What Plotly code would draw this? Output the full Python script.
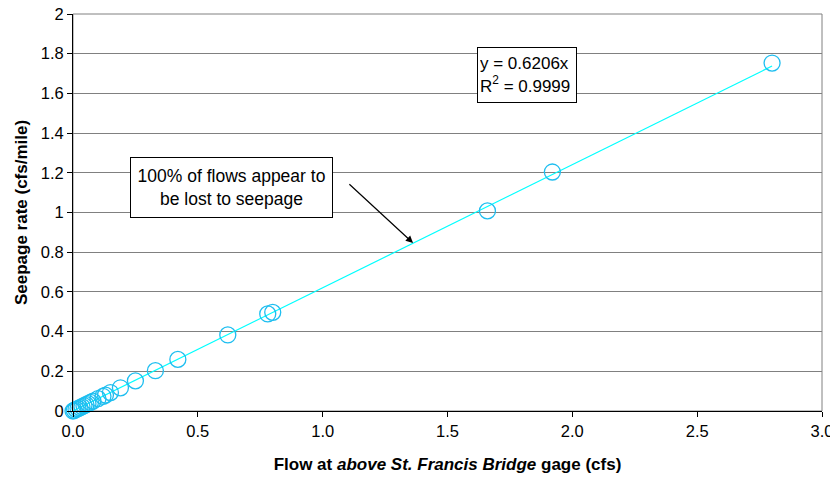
import plotly.graph_objects as go

flow = [0.0, 0.005, 0.012, 0.02, 0.028, 0.036, 0.044, 0.052, 0.06, 0.07, 0.08,
        0.10, 0.12, 0.13, 0.15, 0.19, 0.25, 0.33, 0.42, 0.62, 0.78, 0.80,
        1.66, 1.92, 2.80]
seepage = [0.0, 0.003, 0.008, 0.012, 0.017, 0.022, 0.027, 0.032, 0.037, 0.043, 0.05,
           0.062, 0.074, 0.08, 0.093, 0.117, 0.152, 0.203, 0.26, 0.383, 0.489, 0.497,
           1.008, 1.204, 1.753]
slope = 0.6206
r2 = 0.9999
x_ticks = [0.0, 0.5, 1.0, 1.5, 2.0, 2.5, 3.0]
x_ticktext = ["0.0", "0.5", "1.0", "1.5", "2.0", "2.5", "3.0"]
y_ticks = [0, 0.2, 0.4, 0.6, 0.8, 1.0, 1.2, 1.4, 1.6, 1.8, 2.0]
y_ticktext = ["0", "0.2", "0.4", "0.6", "0.8", "1", "1.2", "1.4", "1.6", "1.8", "2"]

FONT = "Liberation Sans, Arial, sans-serif"

trend_x = [0.0, max(flow)]
trend_y = [slope * v for v in trend_x]

fig = go.Figure()
fig.add_trace(go.Scatter(x=trend_x, y=trend_y, mode="lines",
                         line=dict(color="#00FFFF", width=1.2),
                         hoverinfo="skip", showlegend=False, cliponaxis=False))
fig.add_trace(go.Scatter(x=flow, y=seepage, mode="markers",
                         marker=dict(symbol="circle-open", size=16,
                                     color="#1EBEF0", line=dict(width=1.3, color="#1EBEF0")),
                         showlegend=False, cliponaxis=False))

# plot area border (grey)
fig.add_shape(type="rect", xref="paper", yref="paper", x0=0, y0=0, x1=1, y1=1,
              line=dict(color="#808080", width=1), layer="below")

fig.add_annotation(x=1.818, y=1.693, xref="x", yref="y",
                   text="y = " + str(slope) + "x<br>R<sup>2</sup> = " + str(r2), showarrow=False,
                   align="left", font=dict(family=FONT, size=17, color="black"),
                   bgcolor="white", bordercolor="black", borderwidth=1, borderpad=2,
                   width=94, height=50)

fig.add_annotation(x=0.633, y=1.128, xref="x", yref="y",
                   text="100% of flows appear to<br>be lost to seepage", showarrow=False,
                   align="center", font=dict(family=FONT, size=17.5, color="black"),
                   bgcolor="white", bordercolor="black", borderwidth=1, borderpad=2,
                   width=197, height=55)

fig.add_annotation(x=1.362, y=0.846, xref="x", yref="y",
                   ax=1.101, ay=1.149, axref="x", ayref="y",
                   text="", showarrow=True, arrowhead=2, arrowsize=1.2,
                   arrowwidth=1.2, arrowcolor="black")

fig.update_xaxes(range=[0, 3], tickvals=x_ticks, ticktext=x_ticktext,
                 showgrid=False, zeroline=False, showline=True, linecolor="black",
                 linewidth=1, ticks="outside", ticklen=5, tickcolor="black",
                 automargin=False, ticklabeloverflow="allow",
                 tickfont=dict(family=FONT, size=16.5, color="black"),
                 title=dict(text="<b>Flow at <i>above St. Francis Bridge</i> gage (cfs)</b>",
                            font=dict(family=FONT, size=17, color="black"), standoff=19))
fig.update_yaxes(range=[0, 2], tickvals=y_ticks, ticktext=y_ticktext,
                 showgrid=True, gridcolor="#808080", gridwidth=1, zeroline=False,
                 showline=True, linecolor="black", linewidth=1,
                 ticks="outside", ticklen=5, tickcolor="black",
                 automargin=False, ticklabeloverflow="allow",
                 tickfont=dict(family=FONT, size=16.5, color="black"),
                 title=dict(text="<b>Seepage rate (cfs/mile)</b>",
                            font=dict(family=FONT, size=17, color="black"), standoff=8))

fig.update_layout(width=830, height=481, margin=dict(l=73, r=8, t=14, b=70),
                  plot_bgcolor="white", paper_bgcolor="white",
                  font=dict(family=FONT, color="black"))

fig.write_html("out.html", config={"displayModeBar": False},
               post_script="document.body.style.margin='0';")
